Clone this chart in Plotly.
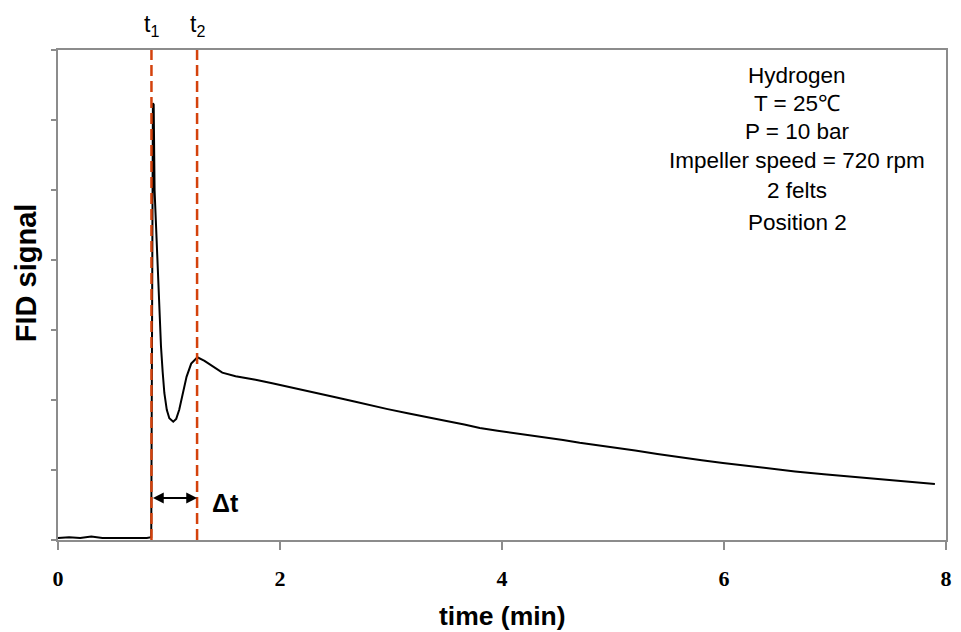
import plotly.graph_objects as go

# ---- data ----
time_min = [0, 0.1, 0.2, 0.3, 0.4, 0.5, 0.6, 0.7, 0.8, 0.84, 0.845, 0.85, 0.855, 0.862,
            0.87, 0.883, 0.895, 0.907, 0.918, 0.928, 0.943, 0.958, 0.98, 1.003, 1.038,
            1.065, 1.092, 1.125, 1.158, 1.2, 1.256, 1.32, 1.39, 1.48, 1.6, 1.72, 1.78,
            1.93, 2.08, 2.17, 2.375, 2.5, 2.67, 2.8, 2.97, 3.15, 3.36, 3.5, 3.66, 3.8,
            3.96, 4.1, 4.25, 4.4, 4.55, 4.7, 4.85, 5.03, 5.2, 5.4, 5.6, 5.8, 5.99, 6.2,
            6.4, 6.64, 6.9, 7.18, 7.4, 7.6, 7.9]
fid_signal = [0.03, 0.04, 0.03, 0.05, 0.03, 0.03, 0.02, 0.03, 0.03, 0.04, 3.0, 5.5, 6.24, 6.22,
              5.0, 4.5, 4.0, 3.6, 3.15, 2.76, 2.4, 2.10, 1.86, 1.74, 1.69,
              1.73, 1.86, 2.08, 2.33, 2.52, 2.61, 2.56, 2.48, 2.39, 2.34, 2.31, 2.29,
              2.24, 2.19, 2.15, 2.09, 2.04, 1.98, 1.93, 1.87, 1.81, 1.75, 1.70, 1.65, 1.60,
              1.56, 1.53, 1.50, 1.46, 1.43, 1.39, 1.36, 1.32, 1.28, 1.23, 1.18, 1.14, 1.10, 1.06,
              1.02, 0.98, 0.94, 0.90, 0.87, 0.84, 0.80]

t1 = 0.842
t2 = 1.253
x_ticks = [0, 2, 4, 6, 8]
y_ticks = [0, 1, 2, 3, 4, 5, 6, 7]
info_lines = ["Hydrogen", "T = 25\u2103", "P = 10 bar", "Impeller speed = 720 rpm",
              "2 felts", "Position 2"]

SANS = "Liberation Sans, Arial, sans-serif"
SERIF = "Liberation Serif, Times New Roman, serif"
RED = "#d4420c"
AXIS = "#8c8c8c"

fig = go.Figure()
fig.add_trace(go.Scatter(x=time_min, y=fid_signal, mode="lines",
                         line=dict(color="black", width=2), showlegend=False,
                         hoverinfo="skip"))
for tv in (t1, t2):
    fig.add_trace(go.Scatter(x=[tv, tv], y=[0, 7], mode="lines",
                             line=dict(color=RED, width=2.5, dash="11px,5px"),
                             showlegend=False, hoverinfo="skip", cliponaxis=False))

ann = []
ann.append(dict(x=t1, y=1, xref="x", yref="paper", text="t<sub>1</sub>", showarrow=False,
                xanchor="center", yanchor="bottom", yshift=8,
                font=dict(family=SANS, size=23, color="black")))
ann.append(dict(x=t2, y=1, xref="x", yref="paper", text="t<sub>2</sub>", showarrow=False,
                xanchor="center", yanchor="bottom", yshift=8,
                font=dict(family=SANS, size=23, color="black")))
ann.append(dict(x=t2, y=0.6, ax=t1, ay=0.6, xref="x", yref="y", axref="x", ayref="y",
                text="", showarrow=True, arrowhead=2, arrowside="end+start",
                arrowsize=1.2, arrowwidth=1.8, arrowcolor="black", standoff=0, startstandoff=0))
ann.append(dict(x=1.51, y=0.53, xref="x", yref="y", text="<b>\u0394t</b>", showarrow=False,
                xanchor="center", yanchor="middle",
                font=dict(family=SANS, size=25, color="black")))
line_y = [75, 103, 131, 160, 190, 222]
for txt, py in zip(info_lines, line_y):
    ann.append(dict(x=6.66, y=7 - (py - 50) / 70, xref="x", yref="y", text=txt,
                    showarrow=False, xanchor="center", yanchor="middle",
                    font=dict(family=SANS, size=22.5, color="black")))
ann.append(dict(x=-32 / 893, y=(540 - 273) / 490, xref="paper", yref="paper",
                text="<b>FID signal</b>", textangle=-90, showarrow=False,
                xanchor="center", yanchor="middle",
                font=dict(family=SANS, size=29, color="black")))
ann.append(dict(x=0.5, y=-(616 - 540) / 490, xref="paper", yref="paper",
                text="<b>time (min)</b>", showarrow=False,
                xanchor="center", yanchor="middle",
                font=dict(family=SANS, size=26.5, color="black")))

fig.update_layout(
    width=961, height=632,
    margin=dict(l=58, r=9, t=50, b=92),
    paper_bgcolor="white", plot_bgcolor="white",
    annotations=ann,
    xaxis=dict(range=[0, 8], tickvals=x_ticks, ticktext=[f"<b>{v}</b>" for v in x_ticks],
               ticks="outside", ticklen=8, tickwidth=1.5, tickcolor=AXIS,
               showline=True, linecolor=AXIS, linewidth=1.5, mirror=True,
               showgrid=False, zeroline=False, ticklabelstandoff=10,
               tickfont=dict(family=SERIF, size=22, color="black")),
    yaxis=dict(range=[0, 7], tickvals=y_ticks, showticklabels=False,
               ticks="outside", ticklen=5, tickwidth=1.5, tickcolor=AXIS,
               showline=True, linecolor=AXIS, linewidth=1.5, mirror=True,
               showgrid=False, zeroline=False),
)

fig.write_html("out.html", config={"displayModeBar": False},
               post_script="document.body.style.margin='0';document.body.style.padding='0';")
